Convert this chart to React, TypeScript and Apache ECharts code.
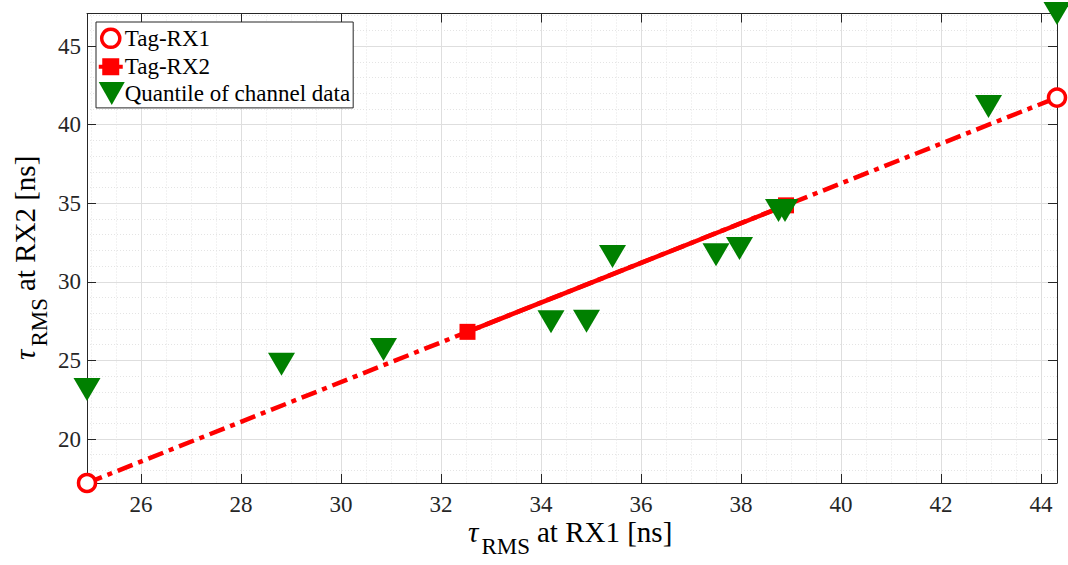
import React, { useEffect, useRef } from "react";
import * as echarts from "echarts";

const xRange = [24.92, 44.32];
const yRange = [17.2, 47.08];
const xSplitCount = 10;
const ySplitCount = 6;

const seriesNames = ["Tag-RX1", "Tag-RX2", "Quantile of channel data"];

const tagRX1X = [24.92, 44.32];
const tagRX1Y = [17.2, 41.73];

const tagRX2X = [32.53, 38.9];
const tagRX2Y = [26.82, 34.87];

const quantileX = [24.92, 28.81, 30.85, 34.2, 34.91, 35.43, 37.5, 37.97, 38.75, 38.88, 42.95, 44.32];
const quantileY = [23.15, 24.76, 25.7, 27.46, 27.5, 31.62, 31.72, 32.12, 34.55, 34.55, 41.16, 47.08];

const xLabelParts = ["τ", "RMS", "at RX1 [ns]"];
const yLabelParts = ["τ", "RMS", "at RX2 [ns]"];

const zip = (xs: number[], ys: number[]) => xs.map((x, i) => [x, ys[i]]);

const FAMILY = "'Liberation Serif', 'Times New Roman', serif";
const AXIS = "#262626";
const RED = "#ff0000";
const GREEN = "#008000";

function labelChildren(parts: string[]) {
  const common = {
    fill: "#000",
    fontFamily: FAMILY,
    align: "left",
    textAlign: "left",
    verticalAlign: "middle",
    textVerticalAlign: "middle",
  };
  return [
    {
      type: "text",
      x: 0,
      y: -9.8,
      style: { ...common, text: parts[0], fontSize: 29, fontStyle: "italic" },
    },
    {
      type: "text",
      x: 13.5,
      y: 4.5,
      style: { ...common, text: parts[1], fontSize: 23 },
    },
    {
      type: "text",
      x: 69,
      y: -9.8,
      style: { ...common, text: parts[2], fontSize: 29 },
    },
  ];
}

export default function App() {
  const ref = useRef<HTMLDivElement>(null);
  useEffect(() => {
    document.body.style.margin = "0";
    const chart = echarts.init(ref.current!, null, { renderer: "svg" });

    const baseX = {
      type: "value",
      min: xRange[0],
      max: xRange[1],
      splitNumber: xSplitCount,
    };
    const baseY = {
      type: "value",
      min: yRange[0],
      max: yRange[1],
      splitNumber: ySplitCount,
    };
    const axisLine = { show: true, onZero: false, lineStyle: { color: AXIS, width: 1 } };
    const axisTick = { show: true, inside: true, length: 9, lineStyle: { color: AXIS, width: 1 } };

    const option: any = {
      animation: false,
      backgroundColor: "#fff",
      textStyle: { fontFamily: FAMILY },
      grid: { left: 87, top: 13.5, right: 11, bottom: 82, containLabel: false },
      legend: {
        orient: "vertical",
        left: 96,
        top: 22,
        padding: [3, 3, 3, 1],
        itemGap: 3.7,
        itemWidth: 26,
        itemHeight: 23,
        backgroundColor: "#fff",
        borderColor: AXIS,
        borderWidth: 1,
        selectedMode: false,
        textStyle: { fontFamily: FAMILY, fontSize: 23, color: "#000", padding: [0, 0, 0, -5] },
        data: [
          {
            name: seriesNames[0],
            icon: "path://M0,0M26,23M12,2.5A9,9,0,1,1,11.99,2.5Z",
            itemStyle: { color: "#fff", borderColor: RED, borderWidth: 3.5 },
          },
          {
            name: seriesNames[1],
            icon: "path://M0,0M26,23M0,9.5H24V13.5H0ZM3.5,3H20.5V20H3.5Z",
            itemStyle: { color: RED, borderWidth: 0 },
          },
          {
            name: seriesNames[2],
            icon: "path://M0,0H26L13,23Z",
            itemStyle: { color: GREEN, borderWidth: 0 },
          },
        ],
      },
      xAxis: [
        {
          ...baseX,
          position: "bottom",
          axisLine,
          axisTick,
          axisLabel: {
            fontFamily: FAMILY,
            fontSize: 23,
            color: AXIS,
            margin: 10,
            showMinLabel: false,
            showMaxLabel: false,
          },
          splitLine: { show: true, lineStyle: { color: "#dedede", width: 1 } },
          minorTick: { show: false, splitNumber: 4 },
          minorSplitLine: { show: true, lineStyle: { color: "#e4e4e4", width: 1, type: [1, 2] } },
        },
        {
          ...baseX,
          position: "top",
          axisLine,
          axisTick,
          axisLabel: { show: false },
          splitLine: { show: false },
        },
      ],
      yAxis: [
        {
          ...baseY,
          position: "left",
          axisLine,
          axisTick,
          axisLabel: {
            fontFamily: FAMILY,
            fontSize: 23,
            color: AXIS,
            margin: 6,
            showMinLabel: false,
            showMaxLabel: false,
          },
          splitLine: { show: true, lineStyle: { color: "#dedede", width: 1 } },
          minorTick: { show: false, splitNumber: 5 },
          minorSplitLine: { show: true, lineStyle: { color: "#e4e4e4", width: 1, type: [1, 2] } },
        },
        {
          ...baseY,
          position: "right",
          axisLine,
          axisTick,
          axisLabel: { show: false },
          splitLine: { show: false },
        },
      ],
      series: [
        {
          name: seriesNames[0],
          type: "line",
          data: zip(tagRX1X, tagRX1Y),
          clip: false,
          symbol: "circle",
          symbolSize: 17,
          showSymbol: true,
          itemStyle: { color: "#fff", borderColor: RED, borderWidth: 3.5 },
          lineStyle: { color: RED, width: 4.5, type: [16, 6, 5, 6], cap: "butt" },
          z: 3,
        },
        {
          name: seriesNames[1],
          type: "line",
          data: zip(tagRX2X, tagRX2Y),
          clip: false,
          symbol: "rect",
          symbolSize: 16,
          showSymbol: true,
          itemStyle: { color: RED },
          lineStyle: { color: RED, width: 4.5, type: "solid" },
          z: 4,
        },
        {
          name: seriesNames[2],
          type: "scatter",
          data: zip(quantileX, quantileY),
          clip: false,
          symbol: "triangle",
          symbolRotate: 180,
          symbolSize: [27, 23],
          itemStyle: { color: GREEN, opacity: 1 },
          z: 5,
        },
      ],
      graphic: [
        {
          type: "group",
          x: 468,
          y: 542,
          children: labelChildren(xLabelParts),
        },
        {
          type: "group",
          x: 35,
          y: 360,
          rotation: Math.PI / 2,
          children: labelChildren(yLabelParts),
        },
      ],
    };

    chart.setOption(option);
    return () => chart.dispose();
  }, []);
  return <div ref={ref} style={{ width: 1068, height: 565, background: "#fff" }} />;
}
